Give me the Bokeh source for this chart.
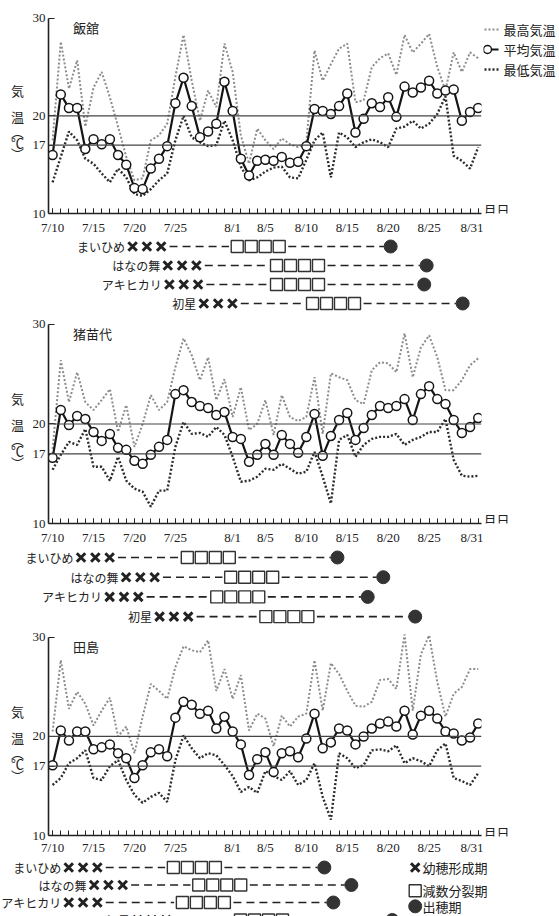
from bokeh.plotting import figure
from bokeh.layouts import column, row
from bokeh.models import Range1d, FixedTicker, Span, Label
from bokeh.core.properties import value
from bokeh.embed import file_html
from bokeh.resources import INLINE

# ---------------- data ----------------
days = list(range(53))  # day index: 0 = 7/10 ... 52 = 8/31
tick_days = [0, 5, 10, 15, 22, 26, 31, 36, 41, 46, 52]
tick_labels = ["7/10", "7/15", "7/20", "7/25", "8/1", "8/5", "8/10", "8/15", "8/20", "8/25", "8/31"]
y_ticks = [10, 17, 20, 30]
ref_lines = [17, 20]
site_names = ["飯舘", "猪苗代", "田島"]
series_labels = ["最高気温", "平均気温", "最低気温"]
y_title_chars = ["気", "温", "︵", "℃", "︶"]
x_unit_label = "月日"

iitate_max = [17.5, 27.6, 22.8, 25.7, 18.9, 22.9, 24.5, 21.9, 18.9, 15.8, 13.4, 13.6, 17.5, 18.0, 19.2, 24.0,
              28.3, 23.6, 19.5, 22.6, 20.9, 27.4, 24.5, 18.0, 15.1, 18.7, 17.5, 16.6, 17.7, 17.1, 16.8, 17.3,
              26.7, 23.6, 25.3, 26.9, 27.4, 21.4, 21.6, 25.0, 25.9, 26.4, 24.2, 28.3, 26.5, 27.4, 28.4, 25.0,
              22.6, 26.5, 24.5, 26.5, 25.9]
iitate_avg = [16.0, 22.2, 20.8, 20.8, 16.6, 17.6, 17.1, 17.6, 16.0, 15.0, 12.6, 12.5, 14.6, 15.6, 16.9, 21.3,
              23.9, 21.0, 17.8, 18.4, 19.2, 23.5, 20.5, 15.6, 13.9, 15.4, 15.5, 15.4, 15.8, 15.2, 15.3, 16.9,
              20.7, 20.5, 20.2, 21.0, 22.3, 18.3, 19.7, 21.3, 20.9, 21.9, 19.9, 23.0, 22.4, 22.9, 23.6, 22.3,
              22.6, 22.7, 19.5, 20.4, 20.8]
iitate_min = [13.2, 15.8, 18.4, 17.5, 15.6, 15.1, 14.1, 13.2, 14.6, 13.7, 12.0, 11.8, 12.5, 13.4, 14.1, 17.5,
              20.0, 17.8, 17.3, 16.9, 17.0, 19.5, 17.5, 14.8, 13.4, 13.7, 14.3, 14.7, 14.8, 13.7, 13.6, 15.5,
              17.5, 18.3, 13.7, 18.3, 17.8, 16.8, 17.3, 17.6, 17.3, 16.8, 18.7, 18.9, 19.5, 18.7, 19.2, 20.2,
              22.0, 15.9, 15.4, 14.6, 16.8]

inawashiro_max = [17.5, 26.4, 22.2, 25.2, 22.2, 21.4, 22.4, 23.5, 19.2, 21.9, 17.7, 20.0, 22.9, 21.4, 22.2, 25.7,
                  28.6, 26.9, 24.4, 26.7, 22.4, 24.5, 20.7, 23.7, 19.4, 20.0, 22.4, 18.9, 22.9, 20.7, 20.3, 20.7,
                  24.7, 19.0, 25.1, 24.7, 24.4, 22.4, 22.0, 25.4, 26.2, 26.1, 25.2, 29.1, 24.7, 27.7, 28.9, 26.7,
                  23.4, 23.4, 24.4, 25.9, 26.6]
inawashiro_avg = [16.6, 21.4, 19.9, 20.8, 20.5, 19.2, 18.3, 19.0, 17.6, 17.4, 16.3, 16.0, 16.9, 17.7, 18.4, 23.0,
                  23.4, 22.2, 21.8, 21.6, 20.9, 21.2, 18.7, 18.5, 16.2, 16.9, 18.0, 16.9, 18.9, 18.0, 17.1, 18.7,
                  21.0, 16.8, 18.8, 20.4, 21.1, 18.4, 19.6, 20.9, 21.8, 21.6, 21.8, 22.5, 20.4, 23.0, 23.8, 22.5,
                  22.0, 20.4, 19.1, 19.7, 20.6]
inawashiro_min = [15.4, 16.9, 18.2, 17.9, 19.5, 15.7, 15.7, 14.3, 16.7, 14.3, 13.5, 13.2, 11.7, 13.3, 13.3, 17.7,
                  20.2, 19.0, 19.1, 18.7, 19.7, 18.9, 16.7, 14.2, 14.3, 14.7, 15.5, 15.4, 16.0, 15.5, 15.0, 15.2,
                  17.2, 14.7, 12.0, 18.4, 18.9, 16.7, 17.9, 18.5, 18.7, 18.7, 19.0, 17.9, 18.4, 18.7, 19.2, 19.2,
                  20.5, 16.4, 14.8, 14.7, 14.8]

tajima_max = [20.5, 27.7, 22.8, 24.5, 23.3, 21.1, 22.6, 23.9, 20.0, 21.0, 18.3, 22.0, 25.3, 24.6, 23.8, 27.0,
              29.1, 28.7, 28.5, 29.7, 24.6, 26.8, 23.8, 26.2, 20.6, 22.3, 21.8, 19.0, 22.1, 21.0, 22.0, 22.3,
              27.7, 22.6, 27.4, 26.3, 24.6, 23.1, 23.0, 23.5, 25.7, 25.8, 24.8, 30.3, 22.6, 28.3, 30.2, 25.5,
              22.0, 24.3, 25.0, 26.8, 26.8]
tajima_avg = [17.1, 20.6, 19.6, 20.5, 20.5, 18.7, 18.9, 19.2, 18.3, 17.8, 15.8, 17.1, 18.4, 18.7, 18.0, 21.9,
              23.5, 23.2, 22.3, 22.6, 20.8, 22.0, 20.5, 19.2, 16.1, 17.7, 18.4, 16.4, 18.3, 18.5, 17.9, 19.8,
              22.3, 18.8, 19.4, 20.8, 20.6, 19.2, 20.0, 20.8, 21.3, 21.5, 21.0, 22.6, 20.2, 22.1, 22.6, 21.8,
              20.5, 20.3, 19.6, 19.9, 21.3]
tajima_min = [15.1, 15.8, 17.3, 17.8, 18.6, 15.8, 15.6, 17.0, 17.6, 15.6, 14.1, 13.3, 13.9, 14.3, 13.4, 17.6,
              20.1, 18.8, 17.8, 18.3, 18.1, 17.1, 16.0, 14.4, 14.9, 14.3, 16.5, 16.0, 15.6, 16.5, 15.1, 15.6,
              17.3, 13.9, 11.6, 18.3, 17.8, 16.8, 17.1, 18.6, 18.7, 18.5, 19.1, 17.3, 17.8, 17.5, 17.0, 18.6,
              19.3, 15.8, 15.5, 15.1, 16.3]

varieties = ["まいひめ", "はなの舞", "アキヒカリ", "初星"]
# growth stages (day index): start of panicle formation (×), start of meiosis (□), heading (●)
iitate_cross = [8.9, 13.2, 13.4, 17.6]
iitate_square = [21.7, 26.5, 26.5, 30.9]
iitate_heading = [41.3, 45.7, 45.4, 50.1]
inawashiro_cross = [2.6, 8.1, 6.1, 12.2]
inawashiro_square = [15.6, 20.9, 19.2, 25.2]
inawashiro_heading = [34.8, 40.4, 38.5, 44.3]
tajima_cross = [1.1, 4.2, 1.1, 9.5]
tajima_square = [13.9, 17.0, 15.0, 22.1]
tajima_heading = [33.2, 36.5, 34.3, 41.5]
stage_names = ["幼穂形成期", "減数分裂期", "出穂期"]

# ---------------- style / layout ----------------
JP = "Noto Sans CJK JP"
SERIF = "Liberation Serif"
INK = "#222222"
MAXC = "#8c8c8c"
MINC = "#2b2b2b"
W = 559
LW = 28            # left strip (y title)
LB, RB = 20, 2
FW = 433
RW = W - LW - LB - FW - RB
X0, X1 = -0.5, 52.4
PPD = FW / (X1 - X0)
FRAME_LEFT = LW + LB
CELL_X = 14.3 / PPD
CELL_S = 14.0 / PPD
YR = (10, 31)


def side_fig(width, top, frame_h, bb):
    p = figure(width=width, height=top + frame_h + bb, x_range=Range1d(0, width), y_range=Range1d(*YR),
               x_axis_type=None, y_axis_type=None, output_backend="svg", toolbar_location=None,
               min_border_left=0, min_border_right=0, min_border_top=top, min_border_bottom=bb,
               frame_align=False)
    p.outline_line_color = None
    return p


def make_chart(site, tmax, tavg, tmin, top, frame_h, bb, standoff, with_legend):
    h = top + frame_h + bb
    p = figure(width=LB + FW + RB, height=h, x_range=Range1d(X0, X1), y_range=Range1d(*YR),
               output_backend="svg", toolbar_location=None,
               min_border_left=LB, min_border_right=RB, min_border_top=top, min_border_bottom=bb,
               frame_align=False)
    p.outline_line_color = None
    p.xgrid.visible = False
    p.ygrid.visible = False

    xa = p.xaxis[0]
    xa.ticker = FixedTicker(ticks=tick_days, minor_ticks=days)
    xa.major_label_overrides = {d: l for d, l in zip(tick_days, tick_labels)}
    xa.major_tick_in = 5
    xa.major_tick_out = 0
    xa.minor_tick_in = 5
    xa.minor_tick_out = 0
    xa.axis_line_width = 1.6
    xa.axis_line_color = INK
    xa.major_tick_line_color = INK
    xa.minor_tick_line_color = INK
    xa.major_label_text_font = SERIF
    xa.major_label_text_font_size = "13px"
    xa.major_label_text_color = INK
    xa.major_label_standoff = standoff

    ya = p.yaxis[0]
    ya.ticker = FixedTicker(ticks=y_ticks, minor_ticks=[])
    ya.bounds = (10, 30)
    ya.major_tick_in = 6
    ya.major_tick_out = 0
    ya.axis_line_width = 1.6
    ya.axis_line_color = INK
    ya.major_tick_line_color = INK
    ya.major_label_text_font = SERIF
    ya.major_label_text_font_size = "13px"
    ya.major_label_text_color = INK
    ya.major_label_standoff = 3

    for v in ref_lines:
        p.add_layout(Span(location=v, dimension="width", line_color="#444444", line_width=1.2))

    p.line(days, tmax, line_color=MAXC, line_width=2, line_dash="2 2")
    p.line(days, tmin, line_color=MINC, line_width=2.4, line_dash="2 2")
    p.line(days, tavg, line_color="#151515", line_width=2.2)
    p.scatter(days, tavg, size=9, fill_color="white", line_color="#151515", line_width=1.5)

    p.add_layout(Label(x=2.5, y=29.1, text=site, text_font=JP, text_font_size="13px",
                       text_color=INK, text_baseline="middle"))

    # left strip: vertical axis title
    left = side_fig(LW, top, frame_h, bb)
    left.text(x=[17] * len(y_title_chars), y=[22.6, 19.9, 18.4, 17.3, 16.1], text=y_title_chars,
              text_font=value(JP), text_font_size="13px", text_color=INK,
              text_align="center", text_baseline="middle")

    # right strip: unit label and series legend
    right = side_fig(RW, top, frame_h, bb)
    right.text(x=[0], y=[10.4], text=[x_unit_label], text_font=value(JP), text_font_size="13px",
               text_color=INK, text_align="left", text_baseline="middle")
    if with_legend:
        ppu = frame_h / (YR[1] - YR[0])
        ly = [YR[1] - (yy - top) / ppu for yy in (29, 49, 69)]
        right.segment(x0=[1], y0=[ly[0]], x1=[15], y1=[ly[0]], line_color=MAXC, line_width=2, line_dash="2 2")
        right.segment(x0=[3], y0=[ly[1]], x1=[15], y1=[ly[1]], line_color="#151515", line_width=2.2)
        right.scatter([4], [ly[1]], size=8, fill_color="white", line_color="#151515", line_width=1.5)
        right.segment(x0=[1], y0=[ly[2]], x1=[15], y1=[ly[2]], line_color=MINC, line_width=2.4, line_dash="2 2")
        right.text(x=[20] * 3, y=ly, text=series_labels, text_font=value(JP), text_font_size="13px",
                   text_color=INK, text_align="left", text_baseline="middle")
    return row(left, p, right, spacing=0)


def make_timeline(cross, square, heading, h, top_pad, row_h, with_stage_legend):
    xs = X0 - FRAME_LEFT / PPD
    p = figure(width=W, height=h, x_range=Range1d(xs, xs + W / PPD),
               y_range=Range1d((h - top_pad) / row_h, -top_pad / row_h),
               x_axis_type=None, y_axis_type=None, output_backend="svg",
               toolbar_location=None, min_border=0, frame_align=False)
    p.outline_line_color = None
    rows = list(range(len(varieties)))
    cx, cy, sx, sy = [], [], [], []
    for k in rows:
        for j in range(3):
            cx.append(cross[k] + CELL_X * (j + 0.5))
            cy.append(k)
        for j in range(4):
            sx.append(square[k] + CELL_S * (j + 0.5))
            sy.append(k)
    d1a = [c + 3 * CELL_X + 0.15 for c in cross]
    d1b = [s - 0.15 for s in square]
    d2a = [s + 4 * CELL_S + 0.25 for s in square]
    d2b = [hd - 0.8 for hd in heading]
    p.segment(x0=d1a, y0=rows, x1=d1b, y1=rows, line_color=INK, line_width=1.6, line_dash="8 5")
    p.segment(x0=d2a, y0=rows, x1=d2b, y1=rows, line_color=INK, line_width=1.6, line_dash="8 5")
    p.scatter(cx, cy, marker="x", size=12, line_width=3, line_color=INK)
    p.scatter(sx, sy, marker="square", size=12, fill_color="white", line_color="#333333", line_width=1.4)
    p.scatter(heading, rows, marker="circle", size=13, fill_color="#333333", line_color="#333333")
    p.text(x=[c - 0.05 for c in cross], y=rows, text=varieties, text_font=value(JP),
           text_font_size="12px", text_align="right", text_baseline="middle", text_color=INK)
    if with_stage_legend:
        ly = [0, 1.33, 2.22]
        lx = 44.3
        p.scatter([lx], [ly[0]], marker="x", size=12, line_width=3, line_color=INK)
        p.scatter([lx], [ly[1]], marker="square", size=12, fill_color="white", line_color="#333333", line_width=1.4)
        p.scatter([lx], [ly[2]], marker="circle", size=13, fill_color="#333333", line_color="#333333")
        p.text(x=[lx + 0.9] * 3, y=ly, text=stage_names, text_font=value(JP), text_font_size="13px",
               text_align="left", text_baseline="middle", text_color=INK)
    return p


c1 = make_chart(site_names[0], iitate_max, iitate_avg, iitate_min, 8, 205, 24, 6, True)
t1 = make_timeline(iitate_cross, iitate_square, iitate_heading, 76, 9, 19, False)
c2 = make_chart(site_names[1], inawashiro_max, inawashiro_avg, inawashiro_min, 1, 209, 24, 6, False)
t2 = make_timeline(inawashiro_cross, inawashiro_square, inawashiro_heading, 79, 10, 19.7, False)
c3 = make_chart(site_names[2], tajima_max, tajima_avg, tajima_min, 1, 209, 21, 4, False)
t3 = make_timeline(tajima_cross, tajima_square, tajima_heading, 59, 10, 17.5, True)

layout = column(c1, t1, c2, t2, c3, t3, spacing=0)
open("out.html", "w").write(file_html(layout, INLINE))
